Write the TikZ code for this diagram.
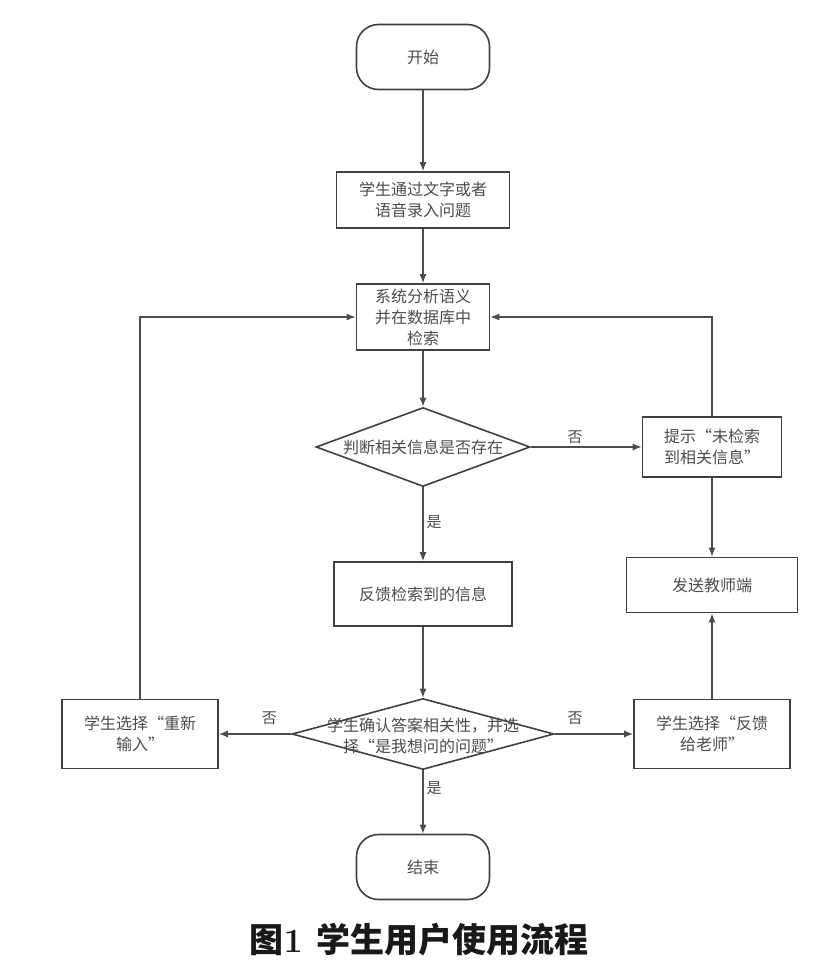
\documentclass[tikz,border=0pt]{standalone}
\usepackage{fontspec}
\newfontfamily\cjk{Noto Sans CJK SC}
\usetikzlibrary{arrows.meta,shapes,calc}
\tikzset{%
  >={Latex[width=7pt,length=9pt]},
  % Specifications for style of nodes:
     base/.style = {rectangle, draw=black!75, line width=1.6pt,
                           text=black!70, align=center, inner sep=0pt,
                           font=\cjk\fontsize{16}{21}\selectfont},
    terminal/.style = {base, rounded corners=22pt, minimum width=133pt, minimum height=65pt},
    process/.style = {base, minimum width=140pt, minimum height=60pt},
    decision/.style = {base, diamond, inner sep=0pt},
    decisionText/.style = {text=black!70, align=center, inner sep=0pt,
                           font=\cjk\fontsize{16}{21}\selectfont},
    edgeLabel/.style = {text=black!70, inner sep=3pt, font=\cjk\fontsize{15}{18}\selectfont},
}

\begin{document}
\begin{tikzpicture}[node distance=100pt, line width=1.3pt, draw=black!70]
  \useasboundingbox (0,0) rectangle (836pt,-977pt);
  % Specification of nodes (position, etc.)
  \node (start)     [terminal] at (423pt,-57pt) {开始};

  \node (input)     [process, below of=start, yshift=-43pt, minimum width=173pt, minimum height=56pt]
                    {学生通过文字或者\\语音录入问题};

  \node (search)    [process, below of=input, yshift=-17pt, minimum width=133pt, minimum height=66pt]
                    {系统分析语义\\并在数据库中\\检索};

  \node (exists)    [decision, below of=search, yshift=-30pt, minimum width=214pt, minimum height=79pt,
                     label={[decisionText]center:判断相关信息是否存在}] {};

  \node (notFound)  [process, right of=exists, xshift=189pt, minimum width=139pt, minimum height=60pt]
                    {提示“未检索\\到相关信息”};

  \node (toTeacher) [process, below of=notFound, yshift=-38pt, minimum width=171pt, minimum height=55pt]
                    {发送教师端};

  \node (feedback)  [process, below of=exists, yshift=-47pt, minimum width=178pt, minimum height=64pt]
                    {反馈检索到的信息};

  \node (confirm)   [decision, below of=feedback, yshift=-40pt, minimum width=262pt, minimum height=71pt,
                     label={[decisionText, yshift=-2pt]center:学生确认答案相关性，并选\\择“是我想问的问题”}] {};

  \node (retry)     [process, left of=confirm, xshift=-183pt, minimum width=156pt, minimum height=69pt]
                    {学生选择“重新\\输入”};

  \node (askTeacher) [process, right of=confirm, xshift=189pt, minimum width=156pt, minimum height=69pt]
                    {学生选择“反馈\\给老师”};

  \node (end)       [terminal, below of=confirm, yshift=-33pt] {结束};

  \node (caption)   [below of=end, yshift=27pt, xshift=-4pt, text=black!90]
                    {\cjk\fontsize{34}{40}\selectfont\bfseries 图{\rmfamily\bfseries 1}\hspace{0.4em}学生用户使用流程};

  % Specification of lines between nodes specified above
  \draw[->] (start) to (input);
  \draw[->] (input) to (search);
  \draw[->] (search) to (exists);

  \draw[->] (exists.east) to node[edgeLabel, above, pos=0.4] {否} (notFound.west);
  \draw[->] (exists) to node[edgeLabel, right, pos=0.47] {是} (feedback);
  \draw[->] (notFound) to (toTeacher);
  \draw[->] (notFound.north) |- (search.east);

  \draw[->] (feedback) to (confirm);

  \draw[->] (confirm.west) to node[edgeLabel, above, pos=0.3, yshift=6pt] {否} (retry.east);
  \draw[->] (confirm.east) to node[edgeLabel, above, pos=0.26, yshift=6pt] {否} (askTeacher.west);
  \draw[->] (askTeacher) to (toTeacher);
  \draw[->] (retry.north) |- (search.west);

  \draw[->] (confirm.south) to node[edgeLabel, right, pos=0.28] {是} (end);

\end{tikzpicture}
\end{document}
